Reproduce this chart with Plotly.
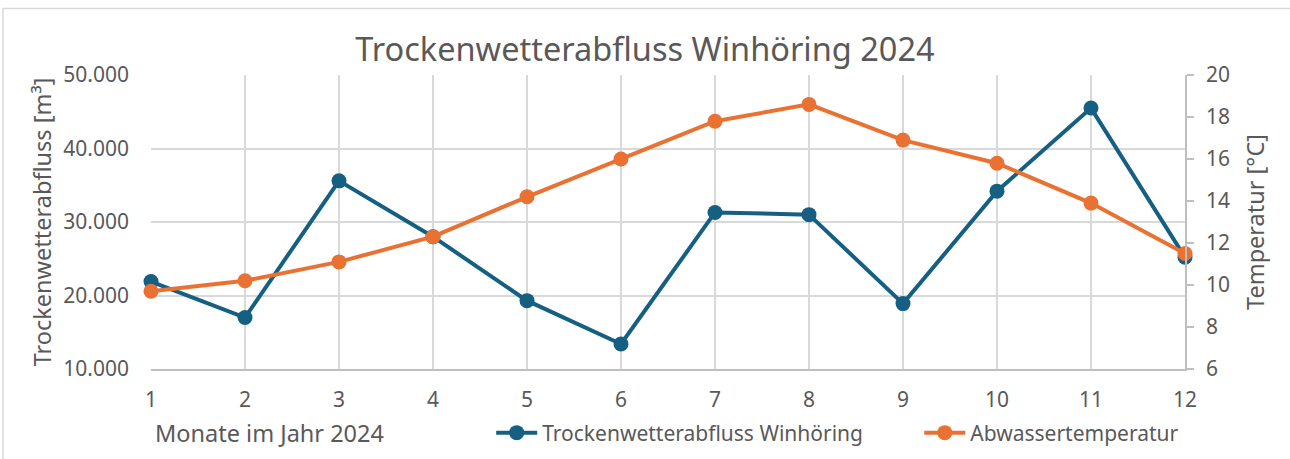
import plotly.graph_objects as go

# Monthly dry-weather flow and wastewater temperature, Winhöring 2024
months = [1, 2, 3, 4, 5, 6, 7, 8, 9, 10, 11, 12]
flow_m3 = [21900, 17000, 35600, 28000, 19300, 13400, 31300, 31000, 18900, 34200, 45500, 25200]
temp_c = [9.7, 10.2, 11.1, 12.3, 14.2, 16.0, 17.8, 18.6, 16.9, 15.8, 13.9, 11.5]

flow_ticks = [10000, 20000, 30000, 40000, 50000]
flow_tick_text = ["10.000", "20.000", "30.000", "40.000", "50.000"]
temp_ticks = [6, 8, 10, 12, 14, 16, 18, 20]

BLUE = "#156082"
ORANGE = "#E97132"
TEXT = "#595959"
GRID = "#D9D9D9"
FONT = "Noto Sans"

fig = go.Figure()
fig.add_trace(go.Scatter(
    x=months, y=flow_m3, name="Trockenwetterabfluss Winhöring",
    mode="lines+markers", line=dict(color=BLUE, width=4),
    marker=dict(color=BLUE, size=15), yaxis="y", cliponaxis=False,
    legend="legend",
))
fig.add_trace(go.Scatter(
    x=months, y=temp_c, name="Abwassertemperatur",
    mode="lines+markers", line=dict(color=ORANGE, width=4),
    marker=dict(color=ORANGE, size=15), yaxis="y2", cliponaxis=False,
    legend="legend2",
))

legend_style = dict(
    orientation="h", xanchor="left", yref="container", y=1 - 433 / 459, yanchor="middle",
    font=dict(size=21, color=TEXT), bgcolor="rgba(0,0,0,0)", itemwidth=41,
)

fig.update_layout(
    width=1290, height=459,
    margin=dict(l=151, r=105, t=75, b=90, autoexpand=False),
    paper_bgcolor="white", plot_bgcolor="white",
    font=dict(family=FONT, color=TEXT, size=21),
    title=dict(text="Trockenwetterabfluss Winhöring 2024", x=0.5, xanchor="center",
               y=1 - 50 / 459, yref="container", yanchor="middle",
               font=dict(size=32.5, color=TEXT)),
    xaxis=dict(
        range=[1, 12], tickmode="array", tickvals=months,
        showgrid=True, gridcolor=GRID, gridwidth=1.5,
        showline=True, linecolor="#BFBFBF", linewidth=1.5,
        ticks="", zeroline=False, ticklabelstandoff=11, automargin=False,
        tickfont=dict(size=21, color=TEXT),
    ),
    yaxis=dict(
        range=[10000, 50000], tickmode="array", tickvals=flow_ticks, ticktext=flow_tick_text,
        showgrid=True, gridcolor=GRID, gridwidth=1.5, zeroline=False,
        showline=False, ticks="", ticklabelstandoff=21, automargin=False,
        title=dict(text="Trockenwetterabfluss [m³]", font=dict(size=23.5, color=TEXT), standoff=5),
        tickfont=dict(size=21, color=TEXT),
    ),
    yaxis2=dict(
        range=[6, 20], tickmode="array", tickvals=temp_ticks,
        overlaying="y", side="right", showgrid=False, zeroline=False,
        showline=True, linecolor="#BFBFBF", linewidth=1.5,
        ticks="outside", ticklen=7, tickcolor="#BFBFBF", tickwidth=1.5,
        ticklabelstandoff=8, automargin=False,
        title=dict(text="Temperatur [°C]", font=dict(size=23.5, color=TEXT), standoff=19),
        tickfont=dict(size=21, color=TEXT),
    ),
    legend=dict(x=0.329, **legend_style),
    legend2=dict(x=0.743, **legend_style),
    showlegend=True,
)

# x-axis caption sits left-aligned below the tick labels
fig.add_annotation(
    text="Monate im Jahr 2024", xref="paper", yref="paper",
    x=0.002, y=-0.218, xanchor="left", yanchor="middle",
    showarrow=False, font=dict(size=23.5, color=TEXT),
)

# light frame around the chart area
fig.add_shape(
    type="rect", xref="paper", yref="paper",
    x0=(3 - 151) / 1034, x1=(1300 - 151) / 1034,
    y0=(369 - 470) / 294, y1=(369 - 8.5) / 294,
    line=dict(color="#D9D9D9", width=1.5), fillcolor="rgba(0,0,0,0)", layer="below",
)

fig.write_html("out.html")
